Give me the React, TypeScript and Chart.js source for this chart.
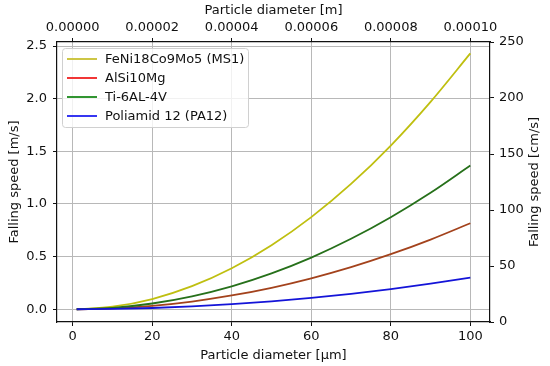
import React, { useEffect, useRef } from "react";
import { Chart, registerables } from "chart.js";

Chart.register(...registerables);

// Particle diameter [µm]
const diameters = [1, 10, 20, 30, 40, 50, 60, 70, 80, 90, 100];
// Falling speed [m/s]
const ms1 = [0.0002, 0.024, 0.097, 0.219, 0.389, 0.608, 0.875, 1.19, 1.555, 1.97, 2.43];
const alsi = [0.0001, 0.0082, 0.0327, 0.0735, 0.131, 0.204, 0.294, 0.4, 0.523, 0.662, 0.817];
const ti = [0.0001, 0.0137, 0.0546, 0.123, 0.218, 0.341, 0.491, 0.669, 0.874, 1.106, 1.365];
const pa12 = [0.00003, 0.003, 0.012, 0.027, 0.048, 0.075, 0.108, 0.147, 0.192, 0.243, 0.3];

const seriesLabels = ["FeNi18Co9Mo5 (MS1)", "AlSi10Mg", "Ti-6AL-4V", "Poliamid 12 (PA12)"];
const lineColors = ["#bfbf10", "#a3421c", "#26701a", "#1414d8"];
const legendColors = ["#c8c030", "#f02020", "#1a8a1a", "#2020f0"];

const xTicks = [0, 20, 40, 60, 80, 100];
const topTicks = [0, 0.00002, 0.00004, 0.00006, 0.00008, 0.0001];
const leftTicks = [0, 0.5, 1.0, 1.5, 2.0, 2.5];
const rightTicks = [0, 50, 100, 150, 200, 250];

const rightTitle = "Falling speed [cm/s]";
const FONT = "DejaVu Sans";
const FS = 13;

export default function App() {
  const ref = useRef<HTMLCanvasElement | null>(null);

  useEffect(() => {
    document.body.style.margin = "0";
    const canvas = ref.current;
    if (!canvas) return;
    const all = [ms1, alsi, ti, pa12];
    const datasets = all.map((vals, i) => ({
      label: seriesLabels[i],
      data: diameters.map((d, j) => ({ x: d, y: vals[j] })),
      borderColor: lineColors[i],
      backgroundColor: lineColors[i],
      borderWidth: 1.8,
      pointRadius: 0,
      cubicInterpolationMode: "monotone" as const,
      xAxisID: "x",
      yAxisID: "y",
      order: 4 - i,
    }));

    const legendPlugin = {
      id: "insideLegend",
      afterDraw(chart: any) {
        const ctx = chart.ctx;
        ctx.save();
        const x0 = 62.5, y0 = 48.5, w = 186, h = 79, r = 3;
        ctx.beginPath();
        ctx.moveTo(x0 + r, y0);
        ctx.lineTo(x0 + w - r, y0);
        ctx.arcTo(x0 + w, y0, x0 + w, y0 + r, r);
        ctx.lineTo(x0 + w, y0 + h - r);
        ctx.arcTo(x0 + w, y0 + h, x0 + w - r, y0 + h, r);
        ctx.lineTo(x0 + r, y0 + h);
        ctx.arcTo(x0, y0 + h, x0, y0 + h - r, r);
        ctx.lineTo(x0, y0 + r);
        ctx.arcTo(x0, y0, x0 + r, y0, r);
        ctx.closePath();
        ctx.fillStyle = "rgba(255,255,255,0.8)";
        ctx.fill();
        ctx.strokeStyle = "#d0d0d0";
        ctx.lineWidth = 1;
        ctx.stroke();
        ctx.font = `${FS}px "${FONT}"`;
        ctx.textBaseline = "middle";
        ctx.textAlign = "left";
        seriesLabels.forEach((lab, i) => {
          const y = 59 + i * 19;
          ctx.beginPath();
          ctx.moveTo(67, y);
          ctx.lineTo(97, y);
          ctx.strokeStyle = legendColors[i];
          ctx.lineWidth = 1.8;
          ctx.stroke();
          ctx.fillStyle = "#111";
          ctx.fillText(lab, 105, y + 0.5);
        });
        // right axis title, reading bottom to top
        ctx.translate(535, 182);
        ctx.rotate(-Math.PI / 2);
        ctx.textAlign = "center";
        ctx.textBaseline = "middle";
        ctx.fillStyle = "#111";
        ctx.fillText(rightTitle, 0, 0);
        ctx.restore();
      },
    };

    const tickFont = { family: FONT, size: FS };
    const titleFont = { family: FONT, size: FS };

    const chart = new Chart(canvas, {
      type: "line",
      data: { datasets },
      plugins: [legendPlugin],
      options: {
        animation: false,
        responsive: false,
        devicePixelRatio: 1,
        layout: { padding: 0 },
        plugins: { legend: { display: false }, tooltip: { enabled: false } },
        scales: {
          x: {
            type: "linear",
            position: "bottom",
            min: -3.95,
            max: 104.95,
            afterBuildTicks: (s: any) => { s.ticks = xTicks.map((v) => ({ value: v })); },
            afterFit: (s: any) => { s.height = 44; },
            ticks: { font: tickFont, color: "#111", padding: 3, maxRotation: 0, autoSkip: false, callback: (v: any) => String(v) },
            grid: { color: "#b8b8b8", lineWidth: 1, tickLength: 4, tickColor: "#111", drawTicks: true },
            border: { color: "#111", width: 1.2 },
            title: { display: true, text: "Particle diameter [µm]", font: titleFont, color: "#111", padding: 3 },
          },
          x2: {
            type: "linear",
            position: "top",
            display: true,
            min: -0.00000395,
            max: 0.00010495,
            afterBuildTicks: (s: any) => { s.ticks = topTicks.map((v) => ({ value: v })); },
            afterFit: (s: any) => { s.height = 42; },
            ticks: { font: tickFont, color: "#111", padding: 3, maxRotation: 0, autoSkip: false, callback: (v: any) => Number(v).toFixed(5) },
            grid: { drawOnChartArea: false, tickLength: 4, tickColor: "#111", drawTicks: true },
            border: { color: "#111", width: 1.2 },
            title: { display: true, text: "Particle diameter [m]", font: titleFont, color: "#111", padding: 2.5 },
          },
          y: {
            type: "linear",
            position: "left",
            min: -0.121,
            max: 2.538,
            afterBuildTicks: (s: any) => { s.ticks = leftTicks.map((v) => ({ value: v })); },
            afterFit: (s: any) => { s.width = 57; },
            ticks: { font: tickFont, color: "#111", padding: 6, autoSkip: false, callback: (v: any) => Number(v).toFixed(1) },
            grid: { color: "#b8b8b8", lineWidth: 1, tickLength: 4, tickColor: "#111", drawTicks: true },
            border: { color: "#111", width: 1.2 },
            title: { display: true, text: "Falling speed [m/s]", font: titleFont, color: "#111", padding: 7 },
          },
          y2: {
            type: "linear",
            position: "right",
            display: true,
            min: 0,
            max: 250,
            afterBuildTicks: (s: any) => { s.ticks = rightTicks.map((v) => ({ value: v })); },
            afterFit: (s: any) => { s.width = 60; },
            ticks: { font: tickFont, color: "#111", padding: 5, autoSkip: false, callback: (v: any) => String(v) },
            grid: { drawOnChartArea: false, tickLength: 4, tickColor: "#111", drawTicks: true },
            border: { color: "#111", width: 1.2 },
            title: { display: false },
          },
        },
      },
    } as any);
    return () => chart.destroy();
  }, []);

  return (
    <div style={{ width: 550, height: 366, background: "#fff" }}>
      <canvas ref={ref} width={550} height={366} style={{ display: "block", width: 550, height: 366 }} />
    </div>
  );
}
